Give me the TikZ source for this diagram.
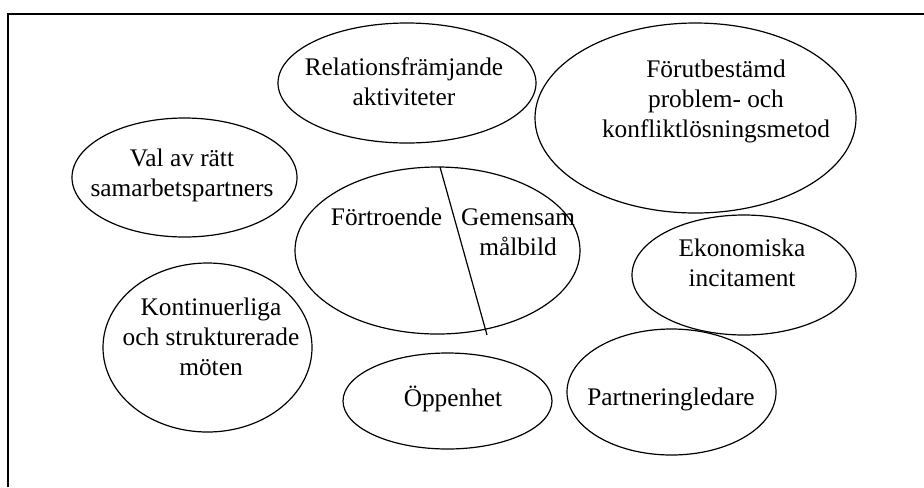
\documentclass[tikz,border=0pt]{standalone}
\usepackage{fontspec}
\setmainfont{Liberation Serif}
\usepackage{tikz}
\usetikzlibrary{shapes.geometric}
\tikzset{
  bubble_/.style = {shape=ellipse, draw, line width=0.9pt, inner sep=0pt},
  txt_/.style    = {align=center, anchor=base, inner sep=0pt},
  frame_/.style  = {line width=1.4pt}
}

\begin{document}
\begin{tikzpicture}
		[
		x                  = 0.75pt,
		y                  = -0.75pt,
		every node/.style  = {font=\fontsize{19pt}{22.5pt}\selectfont}
		]
		\useasboundingbox (0,0) rectangle (924,487);
		\coordinate (frameTL) at (8,14);
		\coordinate (frameTR) at (924,14);
		\coordinate (frameBL) at (8,487);
		\draw [frame_] (frameBL) -- (frameTL) -- (frameTR);

		\node [bubble_, minimum width=193.5pt, minimum height=90pt] (rel) at (407,83) {};
		\node [bubble_, minimum width=240.75pt, minimum height=142.5pt] (forut) at (695.5,118) {};
		\node [bubble_, minimum width=168.75pt, minimum height=89.25pt] (val) at (184.5,177.5) {};
		\node [bubble_, minimum width=213.75pt, minimum height=125.25pt] (cent) at (437.5,250.5) {};
		\node [bubble_, minimum width=168pt, minimum height=90pt] (ekon) at (744,275) {};
		\node [bubble_, minimum width=156.75pt, minimum height=126.75pt] (kont) at (207.5,347.5) {};
		\node [bubble_, minimum width=156.75pt, minimum height=72pt] (open) at (447.5,401) {};
		\node [bubble_, minimum width=156.75pt, minimum height=94.5pt] (part) at (671.5,392) {};

		% base = baseline of the last line
		\node [txt_] (relT) at (404,105) {Relationsfrämjande\\aktiviteter};
		\node [txt_] (forutT) at (716,137) {Förutbestämd\\problem- och\\konfliktlösningsmetod};
		\node [txt_] (valT) at (182,196) {Val av rätt\\samarbetspartners};
		\node [txt_] (trustT) at (386.5,225) {Förtroende};
		\node [txt_] (goalT) at (518,255) {Gemensam\\målbild};
		\node [txt_] (ekonT) at (742,286) {Ekonomiska\\incitament};
		\node [txt_] (kontT) at (211,375) {Kontinuerliga\\och strukturerade\\möten};
		\node [txt_] (openT) at (453,406) {Öppenhet};
		\node [txt_] (partT) at (671,405) {Partneringledare};

		\coordinate (cutTop) at (440,167);
		\coordinate (cutBot) at (487,335);
		\draw [line width=0.9pt] (cutTop) -- (cutBot);
\end{tikzpicture}
\end{document}
